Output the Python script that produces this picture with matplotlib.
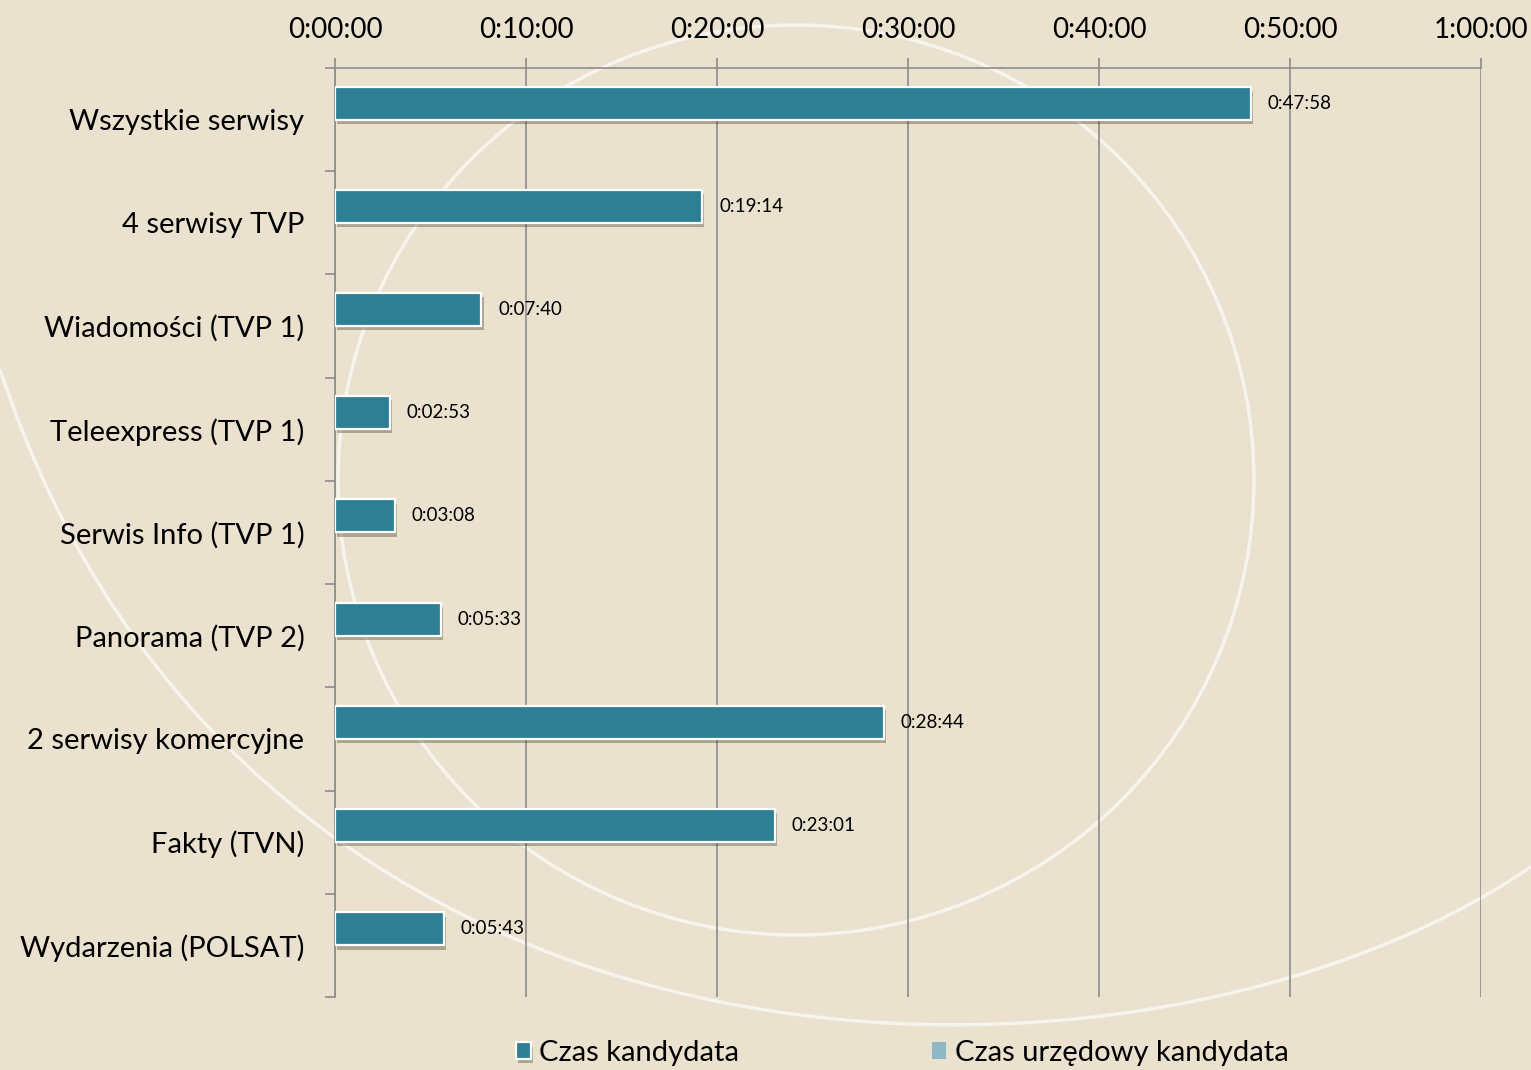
import matplotlib
matplotlib.use('Agg')
import matplotlib.pyplot as plt
import matplotlib.patheffects as pe
from matplotlib.patches import Ellipse, PathPatch
from matplotlib.path import Path
from matplotlib.ticker import FuncFormatter, FixedLocator
import numpy as np

plt.rcParams['font.family'] = ['Lato', 'DejaVu Sans']

# data (seconds)
categories = ['Wszystkie serwisy', '4 serwisy TVP', 'Wiadomości (TVP 1)',
              'Teleexpress (TVP 1)', 'Serwis Info (TVP 1)', 'Panorama (TVP 2)',
              '2 serwisy komercyjne', 'Fakty (TVN)', 'Wydarzenia (POLSAT)']
czas_kandydata = [2878, 1154, 460, 173, 188, 333, 1724, 1381, 343]
czas_urzedowy = [0, 0, 0, 0, 0, 0, 0, 0, 0]
x_ticks = [0, 600, 1200, 1800, 2400, 3000, 3600]
series_names = ['Czas kandydata', 'Czas urzędowy kandydata']

bg = '#eae1ce'
teal = '#2e7f93'
light = '#8fb8c4'
gray = '#8c8c8c'


def hms(s, pos=None):
    s = int(round(s))
    return '%d:%02d:%02d' % (s // 3600, (s % 3600) // 60, s % 60)


fig = plt.figure(figsize=(15.31, 10.70), dpi=100, facecolor=bg)

# decorative swirl in the background
fig.patches.append(Ellipse((796 / 1531, 1 - 480 / 1070), 2 * 458 / 1531, 2 * 455 / 1070,
                           transform=fig.transFigure, fill=False, ec='white',
                           lw=2.5, alpha=0.65, zorder=-5))
verts = [(0, 0.655), (250 / 1531, -0.055), (1150 / 1531, -0.055), (1, 0.19)]
swirl = Path(verts, [Path.MOVETO, Path.CURVE4, Path.CURVE4, Path.CURVE4])
fig.patches.append(PathPatch(swirl, transform=fig.transFigure, fill=False, ec='white',
                             lw=2.5, alpha=0.65, zorder=-5))

ax = fig.add_axes([335 / 1531, 1 - 997 / 1070, (1481 - 335) / 1531, (997 - 68) / 1070])
ax.patch.set_alpha(0)

y = np.arange(len(categories))
h = 0.32
shadow = [pe.SimplePatchShadow(offset=(1.5, -3), shadow_rgbFace='#3a3020', alpha=0.35), pe.Normal()]
bars1 = ax.barh(y - h / 2, czas_kandydata, height=h, color=teal, edgecolor='white',
                linewidth=1.6, label=series_names[0], zorder=3)
for b in bars1:
    b.set_path_effects(shadow)
ax.barh(y + h / 2, czas_urzedowy, height=h, color=light, edgecolor='none',
        label=series_names[1], zorder=3)

for yi, v in zip(y, czas_kandydata):
    ax.annotate(hms(v), (v, yi - h / 2), xytext=(12, 0), textcoords='offset points',
                va='center', ha='left', fontsize=13.5, color='black', zorder=4)

ax.set_xlim(0, 3600)
ax.set_ylim(len(categories) - 0.5, -0.5)
ax.xaxis.tick_top()
ax.xaxis.set_major_locator(FixedLocator(x_ticks))
ax.xaxis.set_major_formatter(FuncFormatter(hms))
ax.tick_params(axis='x', length=7, width=1.2, color=gray, pad=11, labelsize=20)
ax.grid(axis='x', color=gray, lw=1.2, zorder=1)

ax.set_yticks(y)
ax.set_yticklabels(categories)
ax.set_yticks(np.arange(-0.5, len(categories)), minor=True)
ax.tick_params(axis='y', which='major', length=0, pad=22, labelsize=21)
ax.tick_params(axis='y', which='minor', length=7, width=1.2, color=gray)

for s in ['right', 'bottom']:
    ax.spines[s].set_visible(False)
for s in ['top', 'left']:
    ax.spines[s].set_color(gray)
    ax.spines[s].set_linewidth(1.2)

fig.legend(loc='center', bbox_to_anchor=(0.5895, 1 - 1053 / 1070), ncol=2, frameon=False,
           fontsize=21, handlelength=0.5, handleheight=0.5, handletextpad=0.3,
           columnspacing=6.6, borderpad=0)

fig.savefig('out.png', dpi=100, facecolor=bg)
